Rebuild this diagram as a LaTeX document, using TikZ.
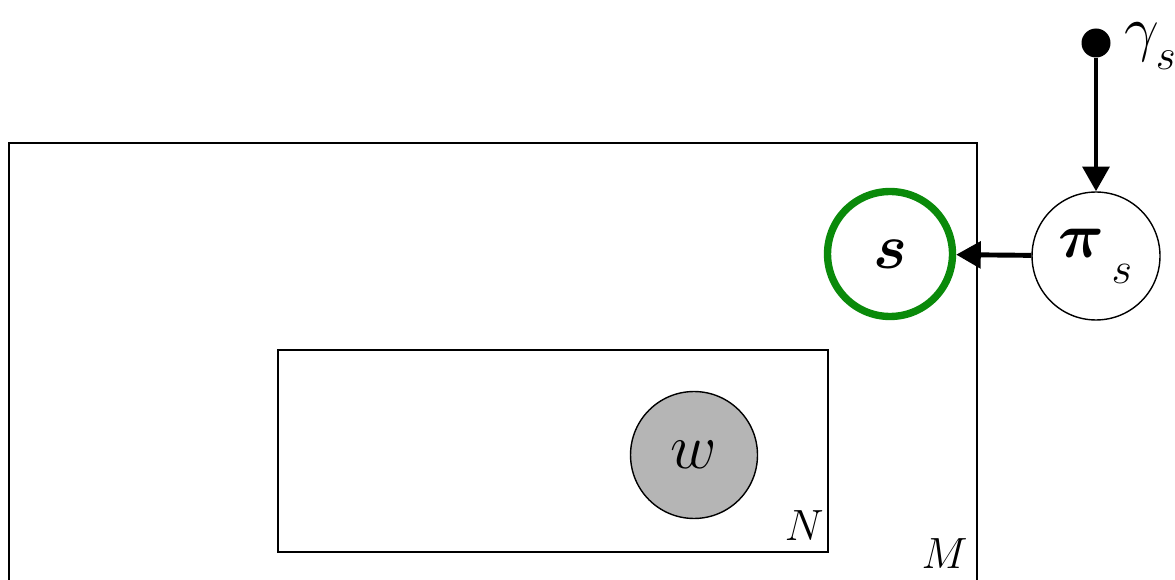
\documentclass[tikz,border=0pt]{standalone}
\usepackage{amsmath, amssymb}
\usetikzlibrary{arrows.meta, positioning}
\definecolor{topicGreen}{HTML}{0A8A0A}
% large math letters (CM math only goes up to \Huge, so scale it)
\newcommand{\bigsym}[1]{\scalebox{1.75}{\huge$#1$}}
\newcommand{\platesym}[1]{\scalebox{1.2}{\huge$#1$}}
\newcommand{\lowsub}[1]{_{\,\raisebox{-0.6ex}{$\scriptstyle #1$}}}

\begin{document}
\begin{tikzpicture}[
    x=0.02cm, y=-0.02cm,
    var/.style={draw, circle, line width=0.8pt, inner sep=0pt,
                minimum size=2.54cm},
    obs/.style={var, fill=black!29},
    latent/.style={var, draw=topicGreen, line width=4.2pt, minimum size=2.5cm},
    hyper/.style={circle, fill, inner sep=0pt, minimum size=0.58cm},
    plate/.style={draw, line width=0.8pt},
    edge/.style={-{Triangle[length=14pt, width=15pt]}, line width=2.8pt},
    ann/.style={inner sep=0pt},
  ]
    \useasboundingbox (0,0) rectangle (1175,580);

    % plates
    \draw[plate] (9,600) |- (977,143) -- (977,600);
    \draw[plate] (278,350) rectangle (828,552);
    \node[ann, anchor=base east] (M) at (968,568) {\platesym{M}};
    \node[ann, anchor=base east] (N) at (824,540) {\platesym{N}};

    % variables
    \node[latent] (s) at (890,254) {\bigsym{\boldsymbol{s}}};
    \node[var, minimum size=2.56cm] (pi) at (1096,256)
      {\bigsym{\boldsymbol{\pi}\lowsub{s}}};
    \node[obs] (w) at (694,455) {\bigsym{w}};
    \node[hyper] (gamma) at (1096,43) {};
    \node[ann, anchor=base west] (gammalbl) at (1124,50)
      {\scalebox{1.7}{\huge$\gamma_{\raisebox{-0.4ex}{$\scriptstyle s$}}$}};

    % edges
    \draw[edge] (gamma) -- (pi);
    \draw[edge] (pi) -- (s);
  \end{tikzpicture}
\end{document}
